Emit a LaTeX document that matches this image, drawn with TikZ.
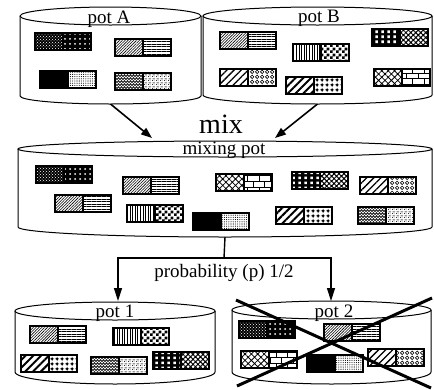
\documentclass[tikz,border=0pt]{standalone}
\usepackage{fontspec}
\setmainfont{Liberation Serif}
\usetikzlibrary{patterns,patterns.meta,arrows.meta}

% zigzag "wave" fill
\pgfdeclarepatternformonly{wavy}{\pgfqpoint{-0.5pt}{-0.5pt}}{\pgfqpoint{3.5pt}{3.5pt}}{\pgfqpoint{3pt}{3pt}}{%
  \pgfsetlinewidth{0.75pt}%
  \pgfpathmoveto{\pgfqpoint{0pt}{0.4pt}}%
  \pgfpathlineto{\pgfqpoint{1.5pt}{2.4pt}}%
  \pgfpathlineto{\pgfqpoint{3pt}{0.4pt}}%
  \pgfusepath{stroke}}
% dense irregular grain
\pgfdeclarepatternformonly{grainy}{\pgfpointorigin}{\pgfqpoint{4pt}{4pt}}{\pgfqpoint{4pt}{4pt}}{%
  \pgfpathcircle{\pgfqpoint{0.6pt}{0.7pt}}{0.6pt}%
  \pgfpathcircle{\pgfqpoint{2.6pt}{1.2pt}}{0.55pt}%
  \pgfpathcircle{\pgfqpoint{1.4pt}{2.7pt}}{0.6pt}%
  \pgfpathcircle{\pgfqpoint{3.3pt}{3.3pt}}{0.5pt}%
  \pgfusepath{fill}}
% small window-like rectangles
\pgfdeclarepatternformonly{windows}{\pgfpointorigin}{\pgfqpoint{5.5pt}{5pt}}{\pgfqpoint{5.5pt}{5pt}}{%
  \pgfpathrectangle{\pgfqpoint{1.5pt}{1pt}}{\pgfqpoint{2.5pt}{3pt}}%
  \pgfusepath{fill}}
% open rings
\pgfdeclarepatternformonly{rings}{\pgfpointorigin}{\pgfqpoint{5pt}{5pt}}{\pgfqpoint{5pt}{5pt}}{%
  \pgfsetlinewidth{0.7pt}%
  \pgfpathcircle{\pgfqpoint{2.5pt}{2.5pt}}{2pt}%
  \pgfusepath{stroke}}
% beads on a grid
\pgfdeclarepatternformonly{beads}{\pgfpointorigin}{\pgfqpoint{4.5pt}{4.5pt}}{\pgfqpoint{4.5pt}{4.5pt}}{%
  \pgfsetlinewidth{0.5pt}%
  \pgfpathmoveto{\pgfqpoint{0pt}{2.25pt}}\pgfpathlineto{\pgfqpoint{4.5pt}{2.25pt}}%
  \pgfpathmoveto{\pgfqpoint{2.25pt}{0pt}}\pgfpathlineto{\pgfqpoint{2.25pt}{4.5pt}}%
  \pgfusepath{stroke}%
  \pgfpathcircle{\pgfqpoint{2.25pt}{2.25pt}}{1.5pt}%
  \pgfusepath{fill}}
% coarse checker
\pgfdeclarepatternformonly{bigcheck}{\pgfpointorigin}{\pgfqpoint{6pt}{6pt}}{\pgfqpoint{6pt}{6pt}}{%
  \pgfpathrectangle{\pgfpointorigin}{\pgfqpoint{3pt}{3pt}}%
  \pgfpathrectangle{\pgfqpoint{3pt}{3pt}}{\pgfqpoint{3pt}{3pt}}%
  \pgfusepath{fill}}

\tikzset{
  potline/.style={draw=black, line width=1pt},
  brickline/.style={draw=black, line width=1.2pt},
  lbl/.style={font=\fontsize{19}{19}\selectfont, inner sep=0pt, anchor=base},
  feed/.style={line width=1.6pt, -{Triangle[length=11pt,width=8pt]}},
  tree/.style={line width=1.4pt},
  treearrow/.style={tree, -{Triangle[length=13pt,width=8pt]}},
  cross/.style={line width=3pt},
  % fills for the brick halves
  speck/.style={preaction={fill=black}, pattern=crosshatch dots, pattern color=white},
  whitedots/.style={preaction={fill=black}, pattern={Dots[radius=1pt, distance=5pt]}, pattern color=white},
  finehatch/.style={pattern={Lines[angle=45, distance=2pt, line width=0.6pt]}},
  hlines/.style={pattern={Lines[angle=0, distance=2.5pt, line width=0.8pt]}},
  solid black/.style={fill=black},
  finedots/.style={pattern={Dots[radius=0.55pt, distance=2.2pt]}},
  wave/.style={pattern=wavy},
  grain/.style={pattern=grainy},
  vlines/.style={pattern={Lines[angle=90, distance=2.6pt, line width=1pt]}},
  checker/.style={pattern=bigcheck},
  window/.style={preaction={fill=black}, pattern=windows, pattern color=white},
  weave/.style={pattern={Hatch[angle=45, distance=3.5pt, line width=1pt]}},
  midhatch/.style={pattern={Lines[angle=45, distance=5pt, line width=1.3pt]}},
  ring/.style={pattern=rings},
  thickhatch/.style={pattern={Lines[angle=45, distance=5.5pt, line width=2pt]}},
  bead/.style={pattern=beads},
  lattice/.style={pattern={Hatch[angle=45, distance=4.5pt, line width=0.8pt]}},
  brick/.style={pattern=bricks},
}

% brick with two patterned halves: x, y of the top left corner, left fill, right fill
\newcommand{\drawbrick}[4]{%
  \path[#3] (#1,#2) rectangle ++(28,17);
  \path[#4] (#1+28,#2) rectangle ++(28,17);
  \draw[brickline] (#1,#2) rectangle ++(56,17) (#1+28,#2) -- ++(0,17);}
\newcommand{\brSpeck}[2]{\drawbrick{#1}{#2}{speck}{whitedots}}
\newcommand{\brHatch}[2]{\drawbrick{#1}{#2}{finehatch}{hlines}}
\newcommand{\brBlack}[2]{\drawbrick{#1}{#2}{solid black}{finedots}}
\newcommand{\brWave}[2]{\drawbrick{#1}{#2}{wave}{grain}}
\newcommand{\brStripe}[2]{\drawbrick{#1}{#2}{vlines}{checker}}
\newcommand{\brWindow}[2]{\drawbrick{#1}{#2}{window}{weave}}
\newcommand{\brRing}[2]{\drawbrick{#1}{#2}{midhatch}{ring}}
\newcommand{\brBead}[2]{\drawbrick{#1}{#2}{thickhatch}{bead}}
\newcommand{\brLattice}[2]{\drawbrick{#1}{#2}{lattice}{brick}}

% cylinder: name, left x, right x, top centre y, top y radius, side bottom y, bottom y radius
\newcommand{\drawpot}[7]{%
  \pgfmathsetmacro\pcx{(#2+#3)/2}%
  \pgfmathsetmacro\prx{(#3-#2)/2}%
  \draw[potline] (\pcx,#4) ellipse [x radius=\prx, y radius=#5];
  \draw[potline] (#2,#4) -- (#2,#6)
    .. controls (#2,#6+0.552*#7) and (\pcx-0.552*\prx,#6+#7) .. (\pcx,#6+#7)
    .. controls (\pcx+0.552*\prx,#6+#7) and (#3,#6+0.552*#7) .. (#3,#6) -- (#3,#4);
  \coordinate (#1-top) at (\pcx,#4-#5);
  \coordinate (#1-bottom) at (\pcx,#6+#7);}

\begin{document}
\begin{tikzpicture}[x=1pt, y=-1pt]
\useasboundingbox (0,0) rectangle (434,389);

% source pots
\drawpot{potA}{20}{201}{16}{9}{96}{8}
\drawpot{potB}{203}{432}{16}{9}{95}{9}
\node[lbl] (labA) at (109,23) {pot A};
\node[lbl] (labB) at (319,22) {pot B};

\brSpeck{35}{33}
\brHatch{115}{39}
\brBlack{40}{71}
\brWave{115}{73}

\brHatch{220}{32}
\brStripe{293}{44}
\brWindow{372}{29}
\brRing{220}{69}
\brBead{286}{77}
\brLattice{374}{69}

% mixing step
\node[lbl, font=\fontsize{28}{28}\selectfont] (mixlabel) at (221,133) {mix};
\drawpot{mixpot}{18}{432}{149}{8}{227}{10}
\node[lbl] (labMix) at (224,154) {mixing pot};
\coordinate (mixinL) at (152,138);
\coordinate (mixinR) at (275,138);
\draw[feed] (potA-bottom) -- (mixinL);
\draw[feed] (potB-bottom) -- (mixinR);

\brSpeck{36}{166}
\brHatch{123}{177}
\brLattice{216}{174}
\brWindow{292}{172}
\brRing{360}{177}
\brHatch{55}{195}
\brStripe{127}{205}
\brBlack{193}{213}
\brBead{276}{207}
\brWave{358}{207}

% random split into two pots
\coordinate (split) at (224,258);
\coordinate (pot1in) at (118,301);
\coordinate (pot2in) at (331,301);
\draw[tree] (mixpot-bottom) -- (split);
\draw[treearrow] (split) -| (pot1in);
\draw[treearrow] (split) -| (pot2in);
\node[lbl] (labP) at (224,277) {probability (p) 1/2};

\drawpot{pot1}{15}{215}{311}{9}{372}{12}
\drawpot{pot2}{232}{431}{310}{9}{372}{12}
\node[lbl] (lab1) at (115,317) {pot 1};
\node[lbl] (lab2) at (334,317) {pot 2};

\brHatch{30}{326}
\brStripe{113}{328}
\brBead{21}{355}
\brWave{91}{357}
\brWindow{153}{352}

\brSpeck{239}{321}
\brHatch{324}{324}
\brLattice{241}{351}
\brBlack{307}{355}
\brRing{368}{349}

% pot 2 is discarded
\coordinate (xa) at (236,300);
\coordinate (xb) at (431,388);
\coordinate (xc) at (237,386);
\coordinate (xd) at (432,298);
\draw[cross] (xa) -- (xb);
\draw[cross] (xc) -- (xd);
\end{tikzpicture}
\end{document}
